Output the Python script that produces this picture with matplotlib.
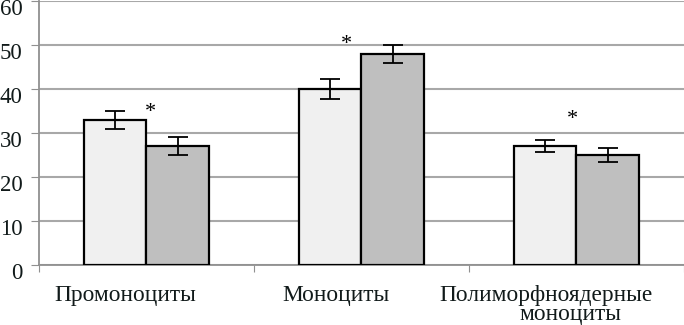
import matplotlib.pyplot as plt
import matplotlib.transforms as mtransforms
import numpy as np

plt.rcParams['font.family'] = ['Liberation Serif', 'DejaVu Serif']

categories = ["Промоноциты", "Моноциты", "Полиморфноядерные"]
second_line = ["", "", "моноциты"]
light_vals = [33, 40, 27]
light_err = [2, 2.3, 1.4]
gray_vals = [27, 48, 25]
gray_err = [2, 2, 1.6]
star_y = [34.6, 50.2, 33]
star_x_off = [0.02, -0.07, -0.02]

fig = plt.figure(figsize=(6.84, 3.25), dpi=100)
ax = fig.add_axes([0.057, 0.185, 0.943, 0.812])

x = np.arange(len(categories))
w = 0.29
txt = '#111a1a'

ax.bar(x - w/2, light_vals, w, color='#f0f0f0', edgecolor='black', linewidth=1.6, zorder=3)
ax.bar(x + w/2, gray_vals, w, color='#bfbfbf', edgecolor='black', linewidth=1.6, zorder=3)
ax.errorbar(x - w/2, light_vals, yerr=light_err, fmt='none', ecolor='black',
            elinewidth=1.3, capsize=7, capthick=1.3, zorder=4)
ax.errorbar(x + w/2, gray_vals, yerr=gray_err, fmt='none', ecolor='black',
            elinewidth=1.3, capsize=7, capthick=1.3, zorder=4)

for i in range(len(categories)):
    ax.text(x[i] + star_x_off[i], star_y[i], '*', ha='center', va='center',
            fontsize=16, color='black')

ax.set_xlim(-0.5, 2.5)
ax.set_ylim(0, 60)
ax.set_yticks(range(0, 61, 10))
ax.yaxis.grid(True, color='#a8a8a8', linewidth=1.5, zorder=0)
ax.set_axisbelow(True)

ax.set_xticks([-0.5, 0.5, 1.5, 2.5])
ax.set_xticklabels([])
ax.tick_params(axis='x', direction='out', length=5, color='#909090')
ax.tick_params(axis='y', direction='out', length=6, color='#909090',
               labelsize=16.5, labelcolor=txt, pad=6)

# Excel-style labels sit a little below their gridlines
shift = mtransforms.ScaledTranslation(0, -6/100, fig.dpi_scale_trans)
for lab in ax.get_yticklabels():
    lab.set_transform(lab.get_transform() + shift)

for s in ['top', 'right']:
    ax.spines[s].set_visible(False)
ax.spines['left'].set_color('#909090')
ax.spines['bottom'].set_color('#909090')
ax.spines['left'].set_linewidth(1.3)
ax.spines['bottom'].set_linewidth(1.3)

label_off = [-0.1, -0.12, -0.14]
for i, lab in enumerate(categories):
    ax.text(x[i] + label_off[i], -4.6, lab, ha='center', va='top', fontsize=16.8,
            color=txt, clip_on=False)
    if second_line[i]:
        ax.text(x[i] - 0.03, -9.0, second_line[i], ha='center', va='top',
                fontsize=16.8, color=txt, clip_on=False)

fig.savefig('out.png', dpi=100)
